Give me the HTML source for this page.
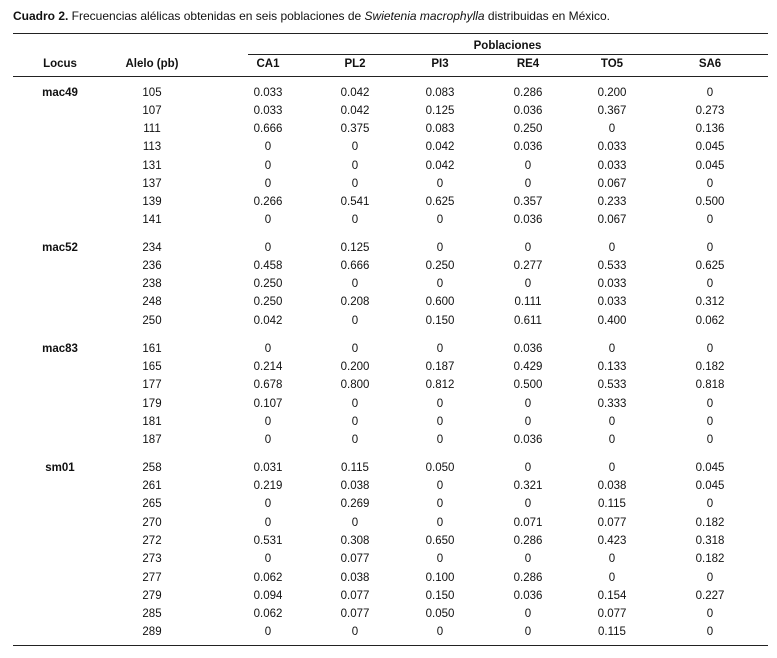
<!DOCTYPE html>
<html><head><meta charset="utf-8"><style>
body{margin:0;width:777px;height:658px;background:#fff;font-family:"Liberation Sans",sans-serif;color:#111;position:relative;overflow:hidden}
.t{position:absolute;left:13px;top:9px;font-size:12px;white-space:nowrap}
.hl{position:absolute;height:1px;background:#222}
.r{position:absolute;left:0;width:777px;height:14px;line-height:14px;font-size:11.5px;margin-top:1px}
.r span{position:absolute;width:80px;text-align:center;top:0}
.r span:nth-child(1){left:20px;font-weight:bold}
.r span:nth-child(2){left:112px}
.r span:nth-child(3){left:228px}
.r span:nth-child(4){left:315px}
.r span:nth-child(5){left:400px}
.r span:nth-child(6){left:488px}
.r span:nth-child(7){left:572px}
.r span:nth-child(8){left:670px}
.h{margin-top:0}
.h span{font-weight:bold}
.pob{position:absolute;left:248px;width:519px;text-align:center;top:40px;font-size:11.5px;font-weight:bold}
</style></head><body>
<div class="t"><b>Cuadro 2.</b> Frecuencias alélicas obtenidas en seis poblaciones de <i>Swietenia macrophylla</i> distribuidas en México.</div>
<div class="hl" style="left:13px;width:755px;top:33px"></div>
<div class="pob">Poblaciones</div>
<div class="hl" style="left:248px;width:520px;top:54px"></div>
<div class="r h" style="top:57px"><span>Locus</span><span>Alelo (pb)</span><span>CA1</span><span>PL2</span><span>PI3</span><span>RE4</span><span>TO5</span><span>SA6</span></div>
<div class="hl" style="left:13px;width:755px;top:76px"></div>

<div class="r" style="top:85px"><span>mac49</span><span>105</span><span>0.033</span><span>0.042</span><span>0.083</span><span>0.286</span><span>0.200</span><span>0</span></div>
<div class="r" style="top:103px"><span></span><span>107</span><span>0.033</span><span>0.042</span><span>0.125</span><span>0.036</span><span>0.367</span><span>0.273</span></div>
<div class="r" style="top:121px"><span></span><span>111</span><span>0.666</span><span>0.375</span><span>0.083</span><span>0.250</span><span>0</span><span>0.136</span></div>
<div class="r" style="top:139px"><span></span><span>113</span><span>0</span><span>0</span><span>0.042</span><span>0.036</span><span>0.033</span><span>0.045</span></div>
<div class="r" style="top:158px"><span></span><span>131</span><span>0</span><span>0</span><span>0.042</span><span>0</span><span>0.033</span><span>0.045</span></div>
<div class="r" style="top:176px"><span></span><span>137</span><span>0</span><span>0</span><span>0</span><span>0</span><span>0.067</span><span>0</span></div>
<div class="r" style="top:194px"><span></span><span>139</span><span>0.266</span><span>0.541</span><span>0.625</span><span>0.357</span><span>0.233</span><span>0.500</span></div>
<div class="r" style="top:212px"><span></span><span>141</span><span>0</span><span>0</span><span>0</span><span>0.036</span><span>0.067</span><span>0</span></div>

<div class="r" style="top:240px"><span>mac52</span><span>234</span><span>0</span><span>0.125</span><span>0</span><span>0</span><span>0</span><span>0</span></div>
<div class="r" style="top:258px"><span></span><span>236</span><span>0.458</span><span>0.666</span><span>0.250</span><span>0.277</span><span>0.533</span><span>0.625</span></div>
<div class="r" style="top:276px"><span></span><span>238</span><span>0.250</span><span>0</span><span>0</span><span>0</span><span>0.033</span><span>0</span></div>
<div class="r" style="top:294px"><span></span><span>248</span><span>0.250</span><span>0.208</span><span>0.600</span><span>0.111</span><span>0.033</span><span>0.312</span></div>
<div class="r" style="top:313px"><span></span><span>250</span><span>0.042</span><span>0</span><span>0.150</span><span>0.611</span><span>0.400</span><span>0.062</span></div>

<div class="r" style="top:341px"><span>mac83</span><span>161</span><span>0</span><span>0</span><span>0</span><span>0.036</span><span>0</span><span>0</span></div>
<div class="r" style="top:359px"><span></span><span>165</span><span>0.214</span><span>0.200</span><span>0.187</span><span>0.429</span><span>0.133</span><span>0.182</span></div>
<div class="r" style="top:377px"><span></span><span>177</span><span>0.678</span><span>0.800</span><span>0.812</span><span>0.500</span><span>0.533</span><span>0.818</span></div>
<div class="r" style="top:396px"><span></span><span>179</span><span>0.107</span><span>0</span><span>0</span><span>0</span><span>0.333</span><span>0</span></div>
<div class="r" style="top:414px"><span></span><span>181</span><span>0</span><span>0</span><span>0</span><span>0</span><span>0</span><span>0</span></div>
<div class="r" style="top:432px"><span></span><span>187</span><span>0</span><span>0</span><span>0</span><span>0.036</span><span>0</span><span>0</span></div>

<div class="r" style="top:460px"><span>sm01</span><span>258</span><span>0.031</span><span>0.115</span><span>0.050</span><span>0</span><span>0</span><span>0.045</span></div>
<div class="r" style="top:478px"><span></span><span>261</span><span>0.219</span><span>0.038</span><span>0</span><span>0.321</span><span>0.038</span><span>0.045</span></div>
<div class="r" style="top:496px"><span></span><span>265</span><span>0</span><span>0.269</span><span>0</span><span>0</span><span>0.115</span><span>0</span></div>
<div class="r" style="top:515px"><span></span><span>270</span><span>0</span><span>0</span><span>0</span><span>0.071</span><span>0.077</span><span>0.182</span></div>
<div class="r" style="top:533px"><span></span><span>272</span><span>0.531</span><span>0.308</span><span>0.650</span><span>0.286</span><span>0.423</span><span>0.318</span></div>
<div class="r" style="top:551px"><span></span><span>273</span><span>0</span><span>0.077</span><span>0</span><span>0</span><span>0</span><span>0.182</span></div>
<div class="r" style="top:570px"><span></span><span>277</span><span>0.062</span><span>0.038</span><span>0.100</span><span>0.286</span><span>0</span><span>0</span></div>
<div class="r" style="top:588px"><span></span><span>279</span><span>0.094</span><span>0.077</span><span>0.150</span><span>0.036</span><span>0.154</span><span>0.227</span></div>
<div class="r" style="top:606px"><span></span><span>285</span><span>0.062</span><span>0.077</span><span>0.050</span><span>0</span><span>0.077</span><span>0</span></div>
<div class="r" style="top:624px"><span></span><span>289</span><span>0</span><span>0</span><span>0</span><span>0</span><span>0.115</span><span>0</span></div>
<div class="hl" style="left:13px;width:755px;top:645px"></div>
</body></html>
